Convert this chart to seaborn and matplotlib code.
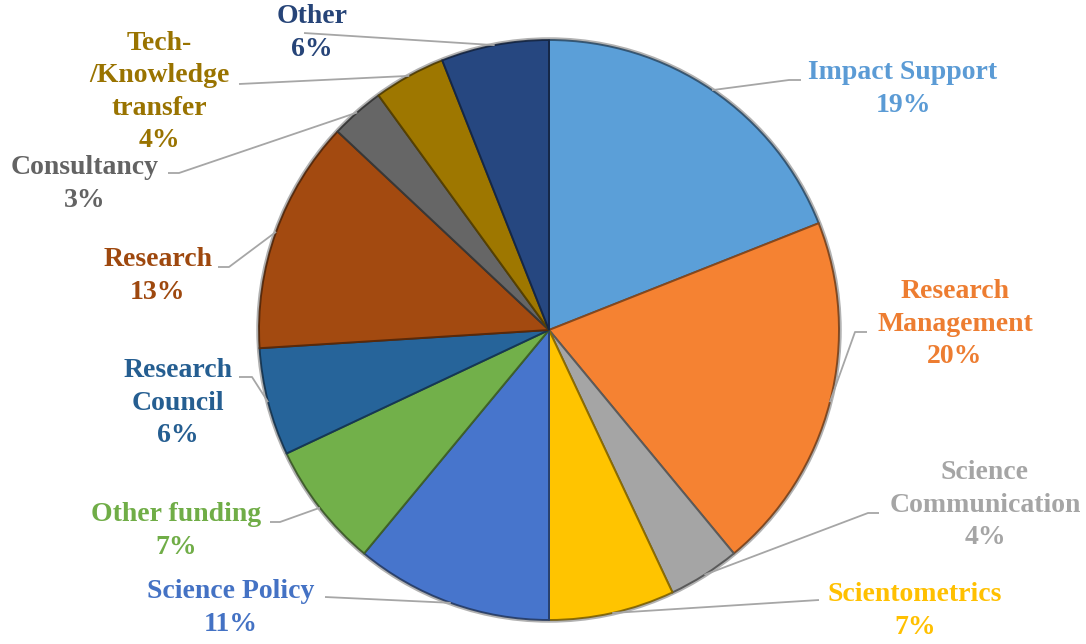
import matplotlib
matplotlib.use("Agg")
import matplotlib.pyplot as plt
import matplotlib.colors as mcolors
import seaborn as sns
import numpy as np

# ---------------- data ----------------
categories = ["Impact Support", "Research Management", "Science Communication",
              "Scientometrics", "Science Policy", "Other funding", "Research Council",
              "Research", "Consultancy", "Tech-/Knowledge transfer", "Other"]
label_lines = ["Impact Support", "Research\nManagement", "Science\nCommunication",
               "Scientometrics", "Science Policy", "Other funding", "Research\nCouncil",
               "Research", "Consultancy", "Tech-\n/Knowledge\ntransfer", "Other"]
shares = [19, 20, 4, 7, 11, 7, 6, 13, 3, 4, 6]

# ---------------- style ----------------
slice_colors = ["#5B9FD8", "#F58232", "#A5A5A5", "#FFC400", "#4775CC", "#72B04A",
                "#26649A", "#A34A10", "#666666", "#9E7700", "#264780"]
text_colors = ["#5B9BD5", "#ED7D31", "#A5A5A5", "#FFC000", "#4472C4", "#70AD47",
               "#255E91", "#9E480E", "#636363", "#997300", "#264478"]

W, H = 1086, 644
CX, CY, R = 549, 330, 290

# label block centres (pixel coords, y down), elbow and end of leader line
label_pos = [(903, 89), (955, 324), (985, 505), (915, 611), (231, 608), (176, 531),
             (178, 403), (158, 276), (85, 184), (159, 92), (312, 33)]
elbows = [(789, 80), (855, 332), (868, 513), (819, 600), (325, 597), (280, 522),
          (252, 377), (229, 267), (179, 173), (239, 84), (304, 33)]
ends = [(801, 80), (867, 332), (879, 513), (819, 600), (325, 597), (270, 522),
        (239, 377), (218, 267), (168, 173), (239, 84), (304, 33)]

sns.set_theme(style="white")
plt.rcParams["font.family"] = ["Liberation Serif", "DejaVu Serif"]

fig = plt.figure(figsize=(W / 100, H / 100), dpi=100)
ax = fig.add_axes([0, 0, 1, 1])

def Y(y):
    return H - y

palette = sns.color_palette(slice_colors)
edge_cols = [tuple(np.array(mcolors.to_rgb(c)) * 0.55) for c in slice_colors]

wedges, _ = ax.pie(shares, colors=palette, startangle=90, counterclock=False,
                   center=(CX, Y(CY)), radius=R,
                   wedgeprops=dict(linewidth=1.4))
for w, ec in zip(wedges, edge_cols):
    w.set_edgecolor(ec)

# subtle outer shadow ring
ring = plt.Circle((CX, Y(CY)), R + 1.5, fill=False, edgecolor="#555555", lw=1.8, alpha=0.45)
ax.add_patch(ring)

for i, w in enumerate(wedges):
    th = np.deg2rad((w.theta1 + w.theta2) / 2)
    x0 = CX + R * np.cos(th)
    y0 = Y(CY) + R * np.sin(th)
    ex, ey = elbows[i]
    nx, ny = ends[i]
    ax.plot([x0, ex, nx], [y0, Y(ey), Y(ny)], color="#A6A6A6", lw=1.3,
            solid_capstyle="butt", zorder=1)
    tx, ty = label_pos[i]
    ax.text(tx, Y(ty), f"{label_lines[i]}\n{shares[i]}%", ha="center", va="center",
            color=text_colors[i], fontsize=20, fontweight="bold",
            linespacing=1.37, multialignment="center")

ax.set_xlim(0, W)
ax.set_ylim(0, H)
ax.set_aspect("equal")
ax.axis("off")

fig.savefig("out.png", dpi=100, facecolor="white")
